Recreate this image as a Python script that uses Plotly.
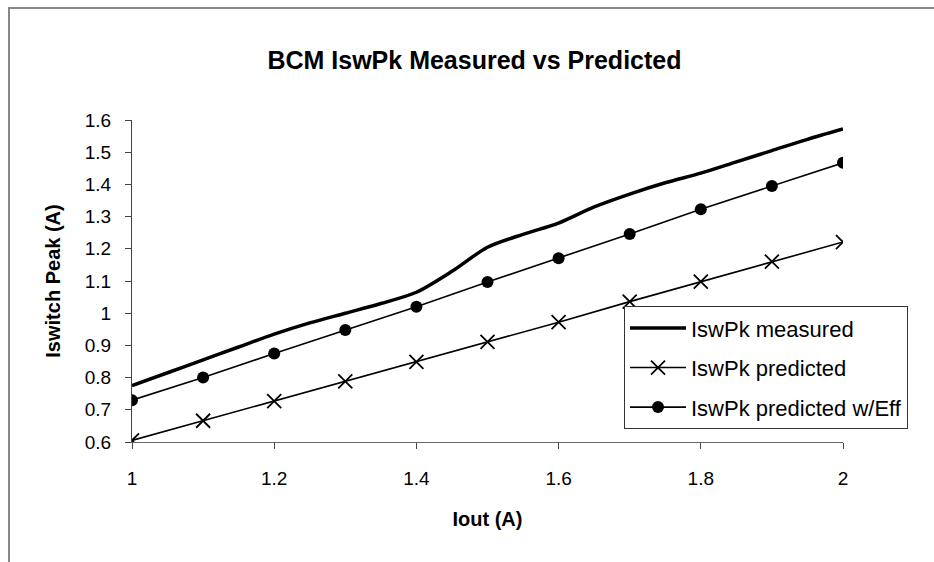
import plotly.graph_objects as go

# Data
iout_measured = [1.00, 1.05, 1.10, 1.15, 1.20, 1.25, 1.30, 1.35, 1.40, 1.45, 1.50,
                 1.55, 1.60, 1.65, 1.70, 1.75, 1.80, 1.85, 1.90, 1.95, 2.00]
iswpk_measured = [0.775, 0.815, 0.855, 0.895, 0.935, 0.970, 1.000, 1.030, 1.065, 1.130, 1.205,
                  1.245, 1.280, 1.330, 1.370, 1.405, 1.435, 1.470, 1.505, 1.540, 1.572]

iout_pred = [1.0, 1.1, 1.2, 1.3, 1.4, 1.5, 1.6, 1.7, 1.8, 1.9, 2.0]
iswpk_predicted = [0.605, 0.666, 0.727, 0.788, 0.849, 0.911, 0.972, 1.036, 1.098, 1.160, 1.221]
iswpk_predicted_eff = [0.730, 0.800, 0.875, 0.948, 1.020, 1.097, 1.171, 1.246, 1.323, 1.395, 1.467]

x_ticks = [1, 1.2, 1.4, 1.6, 1.8, 2]
x_tick_labels = ["1", "1.2", "1.4", "1.6", "1.8", "2"]
y_ticks = [0.6, 0.7, 0.8, 0.9, 1.0, 1.1, 1.2, 1.3, 1.4, 1.5, 1.6]
y_tick_labels = ["0.6", "0.7", "0.8", "0.9", "1", "1.1", "1.2", "1.3", "1.4", "1.5", "1.6"]

FONT = "Liberation Sans, Arial, sans-serif"

fig = go.Figure()
fig.add_trace(go.Scatter(
    x=iout_measured, y=iswpk_measured, name="IswPk measured", legendgroup="a",
    mode="lines", line=dict(color="black", width=3.5, shape="spline", smoothing=0.8),
))
fig.add_trace(go.Scatter(
    x=iout_pred, y=iswpk_predicted, name="IswPk predicted", legendgroup="b",
    mode="lines+markers", line=dict(color="black", width=1.6),
    marker=dict(symbol="x-thin", size=14, line=dict(color="black", width=1.8), color="black"),
))
fig.add_trace(go.Scatter(
    x=iout_pred, y=iswpk_predicted_eff, name="IswPk predicted w/Eff", legendgroup="c",
    mode="lines+markers", line=dict(color="black", width=1.6),
    marker=dict(symbol="circle", size=12, color="black"),
))

fig.update_layout(
    width=934, height=562,
    margin=dict(l=132, r=91, t=120, b=120),
    paper_bgcolor="white", plot_bgcolor="white",
    font=dict(family=FONT, size=19, color="black"),
    title=dict(text="<b>BCM IswPk Measured vs Predicted</b>", x=0.508, xanchor="center",
               y=1 - 60 / 562, yanchor="middle", yref="container",
               font=dict(family=FONT, size=25, color="black")),
    legend=dict(x=0.692, y=0.422, xanchor="left", yanchor="top",
                bordercolor="#333", borderwidth=1, bgcolor="white",
                font=dict(family=FONT, size=22, color="black"),
                tracegroupgap=8, itemwidth=56),
    showlegend=True,
)
fig.update_xaxes(
    range=[1, 2], tickvals=x_ticks, ticktext=x_tick_labels,
    showgrid=False, zeroline=False, showline=True, linecolor="#666", linewidth=1,
    ticks="outside", ticklen=6, tickcolor="#444", ticklabelstandoff=13,
    title=dict(text="<b>Iout (A)</b>", font=dict(family=FONT, size=20), standoff=24),
)
fig.update_yaxes(
    range=[0.6, 1.6], tickvals=y_ticks, ticktext=y_tick_labels,
    showgrid=False, zeroline=False, showline=True, linecolor="#444", linewidth=1,
    ticks="outside", ticklen=6, tickcolor="#444", ticklabelstandoff=10,
    title=dict(text="<b>Iswitch Peak (A)</b>", font=dict(family=FONT, size=20), standoff=18),
)

# outer chart frame
fig.add_shape(type="rect", xref="paper", yref="paper",
              x0=(9 - 132) / 711, x1=1.5, y0=-1.0, y1=(442 - 8) / 322,
              line=dict(color="#888", width=2), fillcolor="rgba(0,0,0,0)", layer="below")

fig.write_html("out.html")
